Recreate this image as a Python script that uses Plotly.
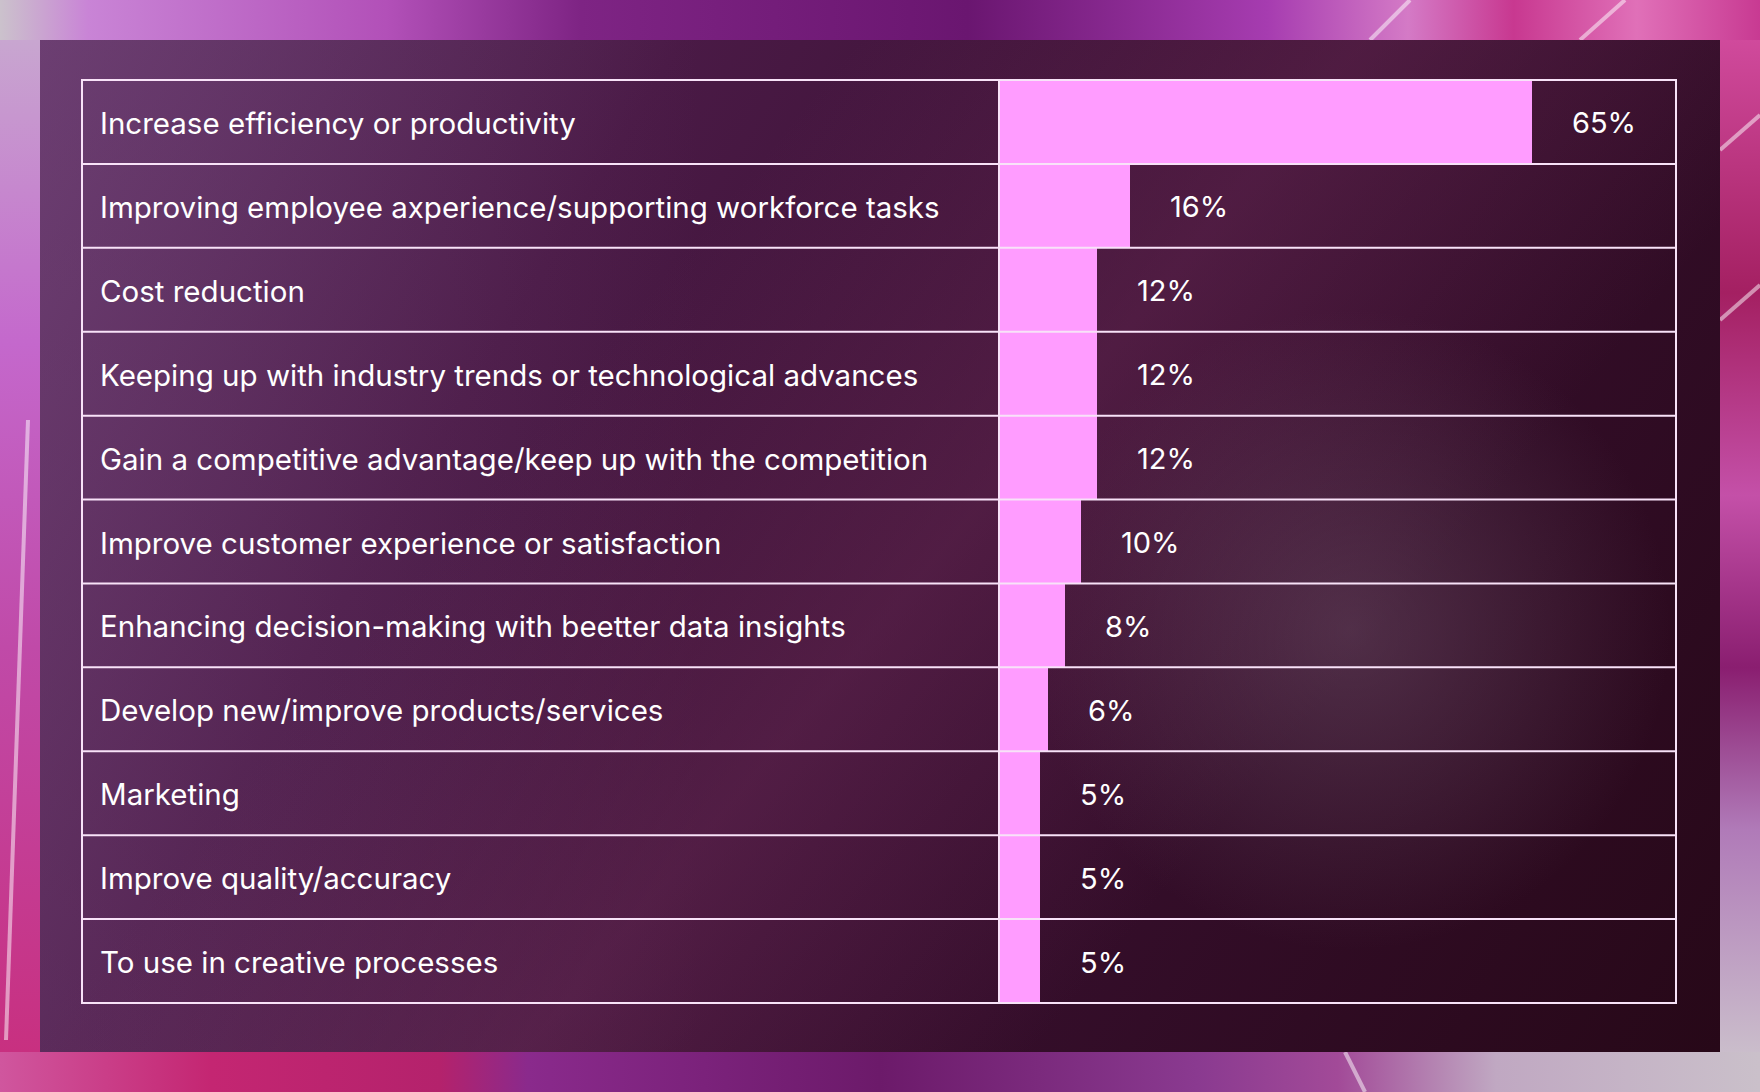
import base64
import plotly.graph_objects as go

# ---------------- data ----------------
categories = [
    "Increase efficiency or productivity",
    "Improving employee axperience/supporting workforce tasks",
    "Cost reduction",
    "Keeping up with industry trends or technological advances",
    "Gain a competitive advantage/keep up with the competition",
    "Improve customer experience or satisfaction",
    "Enhancing decision-making with beetter data insights",
    "Develop new/improve products/services",
    "Marketing",
    "Improve quality/accuracy",
    "To use in creative processes",
]
values = [65, 16, 12, 12, 12, 10, 8, 6, 5, 5, 5]
value_labels = [f"{v}%" for v in values]

# ---------------- layout geometry (pixels) ----------------
W, H = 1760, 1092
TL, TR, TT, TB = 82, 1676, 80, 1003   # table box
DIV = 999                              # label / bar divider
XMAX = 82.56                           # axis max so 65% ends at ~1532px

def px(x):
    return x / W

def py(y):
    return 1 - y / H

# ---------------- background art (SVG) ----------------
svg = f'''<svg xmlns="http://www.w3.org/2000/svg" width="{W}" height="{H}" viewBox="0 0 {W} {H}">
<defs>
<linearGradient id="top" x1="0" y1="0" x2="1" y2="0">
 <stop offset="0" stop-color="#cbc2cc"/>
 <stop offset="0.05" stop-color="#c984d6"/>
 <stop offset="0.22" stop-color="#b250b8"/>
 <stop offset="0.33" stop-color="#7e2484"/>
 <stop offset="0.55" stop-color="#6a1670"/>
 <stop offset="0.72" stop-color="#a63cb0"/>
 <stop offset="0.8" stop-color="#d47ac6"/>
 <stop offset="0.86" stop-color="#c83890"/>
 <stop offset="0.93" stop-color="#e070b8"/>
 <stop offset="1" stop-color="#c83a92"/>
</linearGradient>
<linearGradient id="left" x1="0" y1="0" x2="0" y2="1">
 <stop offset="0" stop-color="#c8a6d0"/>
 <stop offset="0.3" stop-color="#c468cc"/>
 <stop offset="0.6" stop-color="#c04aa8"/>
 <stop offset="1" stop-color="#c83080"/>
</linearGradient>
<linearGradient id="right" x1="0" y1="0" x2="0" y2="1">
 <stop offset="0" stop-color="#d04a9c"/>
 <stop offset="0.25" stop-color="#a42062"/>
 <stop offset="0.45" stop-color="#c450a8"/>
 <stop offset="0.62" stop-color="#8a1e70"/>
 <stop offset="0.78" stop-color="#b07ab8"/>
 <stop offset="1" stop-color="#cabdcb"/>
</linearGradient>
<linearGradient id="bottom" x1="0" y1="0" x2="1" y2="0">
 <stop offset="0" stop-color="#d0569e"/>
 <stop offset="0.12" stop-color="#c42672"/>
 <stop offset="0.25" stop-color="#b4226c"/>
 <stop offset="0.3" stop-color="#8a2a8c"/>
 <stop offset="0.5" stop-color="#6c1a6a"/>
 <stop offset="0.68" stop-color="#8a3a90"/>
 <stop offset="0.76" stop-color="#a24a98"/>
 <stop offset="0.85" stop-color="#c0a8c2"/>
 <stop offset="1" stop-color="#cac0ca"/>
</linearGradient>
<radialGradient id="swoosh" cx="0.5" cy="1" r="0.6">
 <stop offset="0" stop-color="#cc82da" stop-opacity="0.9"/>
 <stop offset="1" stop-color="#cc82da" stop-opacity="0"/>
</radialGradient>
<linearGradient id="panel" gradientUnits="userSpaceOnUse" x1="40" y1="40" x2="1720" y2="1052">
 <stop offset="0" stop-color="#64386a"/>
 <stop offset="0.28" stop-color="#4a1a46"/>
 <stop offset="0.55" stop-color="#3a1032"/>
 <stop offset="1" stop-color="#270818"/>
</linearGradient>
<linearGradient id="lband" gradientUnits="userSpaceOnUse" x1="40" y1="0" x2="700" y2="0">
 <stop offset="0" stop-color="#7a4a80" stop-opacity="0.35"/>
 <stop offset="1" stop-color="#7a4a80" stop-opacity="0"/>
</linearGradient>
<linearGradient id="dband" gradientUnits="userSpaceOnUse" x1="1050" y1="-190" x2="1650" y2="310">
 <stop offset="0" stop-color="#74305e" stop-opacity="0"/>
 <stop offset="0.5" stop-color="#74305e" stop-opacity="0.38"/>
 <stop offset="1" stop-color="#74305e" stop-opacity="0"/>
</linearGradient>
<radialGradient id="glow" gradientUnits="userSpaceOnUse" cx="1350" cy="630" r="320">
 <stop offset="0" stop-color="#6e5068" stop-opacity="0.5"/>
 <stop offset="1" stop-color="#6e5068" stop-opacity="0"/>
</radialGradient>
</defs>
<rect width="{W}" height="{H}" fill="#b04aa8"/>
<rect x="0" y="0" width="{W}" height="40" fill="url(#top)"/>
<ellipse cx="610" cy="50" rx="240" ry="34" fill="url(#swoosh)"/>
<rect x="0" y="40" width="40" height="1012" fill="url(#left)"/>
<rect x="1720" y="40" width="40" height="1012" fill="url(#right)"/>
<rect x="0" y="1052" width="{W}" height="40" fill="url(#bottom)"/>
<g stroke="#ffffff" stroke-opacity="0.5" stroke-width="4" fill="none">
 <line x1="1370" y1="40" x2="1410" y2="0"/>
 <line x1="1580" y1="40" x2="1625" y2="0"/>
 <line x1="1720" y1="150" x2="1760" y2="115"/>
 <line x1="1720" y1="320" x2="1760" y2="285"/>
 <line x1="6" y1="1040" x2="28" y2="420"/>
 <line x1="1345" y1="1052" x2="1365" y2="1092"/>
</g>
<rect x="40" y="40" width="1680" height="1012" fill="url(#panel)"/>
<rect x="40" y="40" width="1680" height="1012" fill="url(#lband)"/>
<rect x="40" y="40" width="1680" height="1012" fill="url(#dband)"/>
<rect x="40" y="40" width="1680" height="1012" fill="url(#glow)"/>
</svg>'''
bg_uri = "data:image/svg+xml;base64," + base64.b64encode(svg.encode()).decode()

# ---------------- figure ----------------
fig = go.Figure()
fig.add_trace(go.Bar(
    x=values,
    y=categories,
    orientation="h",
    width=1.0,
    marker=dict(color="#ff9cff", line=dict(width=0)),
    hoverinfo="x+y",
))

FONT = "Inter, 'Noto Sans', sans-serif"
annotations = []
for cat in categories:
    annotations.append(dict(
        xref="paper", yref="y", x=px(98), y=cat, text=cat, yshift=-1,
        xanchor="left", yanchor="middle", showarrow=False,
        font=dict(family=FONT, size=29.5, color="#ffffff"),
    ))
for cat, v, lab in zip(categories, values, value_labels):
    annotations.append(dict(
        xref="x", yref="y", x=v, y=cat, text=lab, xshift=38, yshift=-1,
        xanchor="left", yanchor="middle", showarrow=False,
        font=dict(family=FONT, size=29, color="#ffffff"),
    ))

LINE = dict(color="#f8e2f8", width=2)
shapes = []
# row separators
for i in range(1, len(categories)):
    shapes.append(dict(type="line", xref="paper", yref="y",
                       x0=px(TL), x1=px(TR), y0=i - 0.5, y1=i - 0.5, line=LINE, layer="above"))
# vertical divider
shapes.append(dict(type="line", xref="paper", yref="paper",
                   x0=px(DIV), x1=px(DIV), y0=py(TB), y1=py(TT), line=LINE, layer="above"))
# outer border
shapes.append(dict(type="rect", xref="paper", yref="paper",
                   x0=px(TL), x1=px(TR), y0=py(TB), y1=py(TT), line=LINE, layer="above"))

fig.update_layout(
    width=W, height=H,
    margin=dict(l=0, r=0, t=0, b=0),
    paper_bgcolor="#4a1a46",
    plot_bgcolor="rgba(0,0,0,0)",
    showlegend=False,
    bargap=0,
    xaxis=dict(domain=[px(DIV), px(TR)], range=[0, XMAX], visible=False, fixedrange=True),
    yaxis=dict(domain=[py(TB), py(TT)], autorange="reversed", visible=False, fixedrange=True,
               categoryorder="array", categoryarray=categories),
    annotations=annotations,
    shapes=shapes,
    images=[dict(source=bg_uri, xref="paper", yref="paper", x=0, y=1,
                 sizex=1, sizey=1, xanchor="left", yanchor="top",
                 sizing="stretch", layer="below")],
)

fig.write_html("out.html")
